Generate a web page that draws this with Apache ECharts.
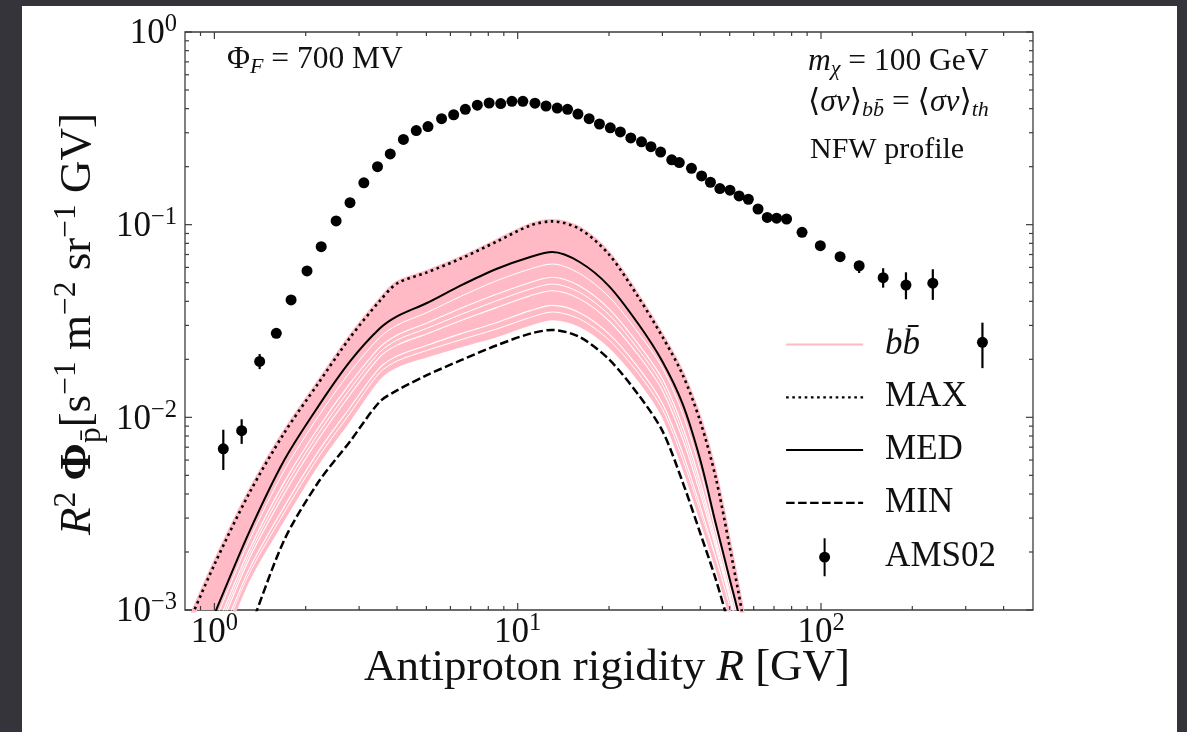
<!DOCTYPE html>
<html><head><meta charset="utf-8">
<script src="https://cdn.jsdelivr.net/npm/echarts@6/dist/echarts.min.js"></script>
<style>
html,body{margin:0;padding:0;width:1187px;height:732px;overflow:hidden;background:#34343a;}
#panel{position:absolute;left:22px;top:6px;width:1155px;height:726px;background:#fff;}
#chart{position:absolute;left:0;top:0;width:1187px;height:732px;}
</style></head><body>
<div id="panel"></div><div id="chart"></div>
<script>
const FONT = '"Liberation Serif","DejaVu Serif",serif';
const INK = '#111';

// ---- model curves (GV, R^2 flux) ----
const rigidity   = [0.8, 1, 1.3, 1.7, 2.2, 2.8, 3.5, 4, 5, 6.5, 8.5, 11, 13, 16, 20, 25, 30, 35, 40, 45, 50, 55, 60];
const fluxMax    = [0.00077, 0.00172, 0.00401, 0.0083, 0.0150, 0.0259, 0.0400, 0.0495, 0.0564, 0.0667, 0.0815, 0.0990, 0.1040, 0.0950, 0.0700, 0.0420, 0.0262, 0.0166, 0.0095, 0.00484, 0.00212, 0.00096, 0.0004];
const fluxMed    = [0.00041, 0.00095, 0.00252, 0.0060, 0.0114, 0.0195, 0.0288, 0.0334, 0.0391, 0.0484, 0.0589, 0.0680, 0.0721, 0.0640, 0.0480, 0.0305, 0.0195, 0.0117, 0.0060, 0.0028, 0.00145, 0.00078, 0.0003];
const fluxMin    = [0.00015, 0.0003, 0.00078, 0.00231, 0.0046, 0.0075, 0.0120, 0.0138, 0.0165, 0.0198, 0.0236, 0.0272, 0.0284, 0.0261, 0.0200, 0.0131, 0.0085, 0.0046, 0.0025, 0.00144, 0.0008, 0.0004, 0.0002];
const fluxPinkLow= [0.0003, 0.00055, 0.00145, 0.0030, 0.0058, 0.0098, 0.0160, 0.0185, 0.0208, 0.0235, 0.0265, 0.0305, 0.0325, 0.0300, 0.0235, 0.0158, 0.0103, 0.0056, 0.0030, 0.0017, 0.00095, 0.0005, 0.00025];
// visible white gaps between individual pink curves
const pinkGap0 = [0.00031, 0.00058, 0.00153, 0.00321, 0.0062, 0.0105, 0.0170, 0.0196, 0.0222, 0.0253, 0.0287, 0.0330, 0.0352, 0.0324, 0.0252, 0.0169, 0.0110, 0.00604, 0.00321, 0.00178, 0.00099, 0.00052, 0.000255];
const pinkGap1 = [0.00032, 0.000614, 0.00162, 0.00344, 0.00664, 0.01125, 0.0180, 0.0208, 0.0236, 0.0272, 0.0310, 0.0358, 0.0381, 0.0349, 0.0271, 0.0181, 0.0118, 0.00652, 0.00344, 0.00187, 0.00104, 0.000547, 0.00026];
const pinkGap2 = [0.00034, 0.00069, 0.00183, 0.00401, 0.00769, 0.0131, 0.0205, 0.0237, 0.0271, 0.0318, 0.0371, 0.0428, 0.0454, 0.0412, 0.0317, 0.0210, 0.0138, 0.00769, 0.00401, 0.00209, 0.00114, 0.000603, 0.00027];
const pinkGap3 = [0.00035, 0.00073, 0.00193, 0.0043, 0.00823, 0.0140, 0.0217, 0.0252, 0.0289, 0.0342, 0.0402, 0.0463, 0.0492, 0.0445, 0.0341, 0.0225, 0.0148, 0.00829, 0.0043, 0.0022, 0.00118, 0.00063, 0.000275];
const pinkGap4 = [0.00036, 0.000773, 0.00204, 0.00461, 0.00881, 0.0150, 0.0230, 0.0267, 0.0308, 0.0368, 0.0435, 0.0501, 0.0533, 0.0480, 0.0366, 0.0240, 0.0158, 0.00893, 0.00461, 0.00232, 0.00123, 0.000659, 0.00028];
const pinkGap5 = [0.00038, 0.000861, 0.00228, 0.0053, 0.0101, 0.0172, 0.0259, 0.0301, 0.0349, 0.0425, 0.0511, 0.0589, 0.0625, 0.0558, 0.0422, 0.0274, 0.0181, 0.0104, 0.0053, 0.00256, 0.00134, 0.00072, 0.00029];

// ---- AMS-02 data ----
const amsR    = [1.07, 1.23, 1.41, 1.60, 1.79, 2.02, 2.25, 2.52, 2.80, 3.11, 3.45, 3.80, 4.20, 4.63, 5.06, 5.61, 6.15, 6.72, 7.36, 8.05, 8.79, 9.57, 10.4, 11.4, 12.4, 13.5, 14.6, 15.8, 17.2, 18.6, 20.2, 21.8, 23.6, 25.6, 27.5, 29.6, 32.2, 34.1, 37.4, 40.4, 43.2, 46.4, 50.1, 53.7, 57.6, 62.0, 66.5, 71.4, 77.0, 86.6, 99.5, 115.6, 133.6, 160.3, 190.6, 233.7, 340.6];
const amsFlux = [0.00686, 0.00853, 0.0195, 0.0273, 0.0407, 0.0575, 0.0769, 0.1045, 0.130, 0.165, 0.200, 0.233, 0.277, 0.308, 0.323, 0.355, 0.372, 0.397, 0.417, 0.428, 0.425, 0.437, 0.437, 0.427, 0.413, 0.403, 0.397, 0.375, 0.355, 0.333, 0.318, 0.303, 0.282, 0.269, 0.254, 0.238, 0.217, 0.210, 0.196, 0.179, 0.166, 0.154, 0.151, 0.141, 0.1355, 0.1206, 0.109, 0.108, 0.107, 0.0913, 0.0778, 0.0682, 0.0612, 0.0531, 0.0486, 0.0497, 0.0245];
const amsErrIdx  = [0, 1, 2, 52, 53, 54, 55, 56];
const amsErrLow  = [0.00533, 0.00728, 0.0178, 0.0561, 0.0471, 0.0410, 0.0407, 0.0180];
const amsErrHigh = [0.00862, 0.00977, 0.0213, 0.0644, 0.0594, 0.0566, 0.0587, 0.0310];

// ---- ticks ----
const xMajorTicks = [1, 10, 100];
const xTickExp    = ['0', '1', '2'];
const xMinorTicks = [0.9, 2, 3, 4, 5, 6, 7, 8, 9, 20, 30, 40, 50, 60, 70, 80, 90, 200, 300, 400];
const yMajorTicks = [0.001, 0.01, 0.1, 1];
const yTickExp    = ['−3', '−2', '−1', '0'];
const yMinorTicks = [0.002, 0.003, 0.004, 0.005, 0.006, 0.007, 0.008, 0.009, 0.02, 0.03, 0.04, 0.05, 0.06, 0.07, 0.08, 0.09, 0.2, 0.3, 0.4, 0.5, 0.6, 0.7, 0.8, 0.9];

const pairs = arr => rigidity.map((r, i) => [r, arr[i]]);
const PINK = '#ffbac6';

const tickRich = {
  b: {fontFamily: FONT, fontSize: 35, fill: INK},
  s: {fontFamily: FONT, fontSize: 24.5, fill: INK, padding: [0, 0, 18, 0]}
};
const annRich = {
  n: {fontFamily: FONT, fontSize: 31.5, fill: INK},
  it: {fontFamily: FONT, fontSize: 31.5, fontStyle: 'italic', fill: INK},
  si: {fontFamily: FONT, fontSize: 22, fontStyle: 'italic', fill: INK, padding: [14, 0, 0, 0]}
};

const chart = echarts.init(document.getElementById('chart'), null, {renderer: 'canvas'});

function lineSeries(name, arr, color, width, type, z) {
  return {
    name: name, type: 'line', data: pairs(arr), symbol: 'none', smooth: 0.3,
    lineStyle: {color: color, width: width, type: type || 'solid', cap: 'butt', opacity: 1},
    itemStyle: {color: color}, z: z, silent: true, clip: true
  };
}
const hideSym = {opacity: 0};

const option = {
  animation: false,
  grid: {left: 185, top: 32, width: 848, height: 578, show: true, borderColor: '#3c3c3c', borderWidth: 1.3, backgroundColor: 'transparent'},
  xAxis: {type: 'log', logBase: 10, min: 0.8, max: 500,
    axisLine: {show: false}, axisTick: {show: false}, axisLabel: {show: false}, splitLine: {show: false}},
  yAxis: {type: 'log', logBase: 10, min: 0.001, max: 1,
    axisLine: {show: false}, axisTick: {show: false}, axisLabel: {show: false}, splitLine: {show: false}},
  legend: {
    orient: 'vertical', left: 780, top: 322, itemWidth: 77, itemHeight: 38, itemGap: 17.8,
    selectedMode: false,
    textStyle: {fontFamily: FONT, fontSize: 35, color: INK, padding: [0, 0, 0, 17],
      rich: {it: {fontFamily: FONT, fontSize: 35, fontStyle: 'italic', color: INK}}},
    formatter: n => n === 'bb̄' ? '{it|bb̄}' : n,
    data: [
      {name: 'bb̄', lineStyle: {width: 2}, itemStyle: hideSym},
      {name: 'MAX', lineStyle: {width: 2.2}, itemStyle: hideSym},
      {name: 'MED', lineStyle: {width: 2}, itemStyle: hideSym},
      {name: 'MIN', lineStyle: {width: 2.2}, itemStyle: hideSym},
      {name: 'AMS02', icon: 'path://M4.5,0h2v38h-2z M0,19 a5.5,5.5 0 1,1 11,0 a5.5,5.5 0 1,1 -11,0z', itemStyle: {color: '#000', opacity: 1}}
    ]
  },
  graphic: {elements: [
    {type: 'text', x: 227, y: 60, z: 100, style: {
      text: '{n|Φ}{si|F}{n| = 700 MV}', align: 'left', verticalAlign: 'middle', rich: annRich}},
    {type: 'text', x: 808, y: 62, z: 100, style: {
      text: '{it|m}{si|χ}{n| = 100 GeV}', align: 'left', verticalAlign: 'middle', rich: annRich}},
    {type: 'text', x: 808, y: 103, z: 100, style: {
      text: '{n|⟨}{it|σv}{n|⟩}{si|bb̄}{n| = ⟨}{it|σv}{n|⟩}{si|th}', align: 'left', verticalAlign: 'middle', rich: annRich}},
    {type: 'text', x: 810, y: 150, z: 100, style: {
      text: 'NFW profile', align: 'left', verticalAlign: 'middle', fontFamily: FONT, fontSize: 30, fill: INK}},
    {type: 'text', x: 607, y: 668, z: 100, style: {
      text: '{n|Antiproton rigidity }{it|R}{n| [GV]}', align: 'center', verticalAlign: 'middle',
      rich: {n: {fontFamily: FONT, fontSize: 45, fill: INK},
             it: {fontFamily: FONT, fontSize: 45, fontStyle: 'italic', fill: INK}}}},
    {type: 'text', x: 78, y: 324, rotation: Math.PI / 2, z: 100, style: {
      text: '{it|R}{sup|2}{n| }{bf|Φ}{sub|p̄}{n|[s}{sup|−1}{n| m}{sup|−2}{n| sr}{sup|−1}{n| GV]}',
      align: 'center', verticalAlign: 'middle',
      rich: {n: {fontFamily: FONT, fontSize: 45, fill: INK},
             it: {fontFamily: FONT, fontSize: 45, fontStyle: 'italic', fill: INK},
             bf: {fontFamily: FONT, fontSize: 45, fontWeight: 'bold', fill: INK},
             sup: {fontFamily: FONT, fontSize: 31.5, fill: INK, padding: [0, 0, 23, 0]},
             sub: {fontFamily: FONT, fontSize: 31.5, fill: INK, padding: [27, 0, 0, 0]}}}}
  ]},
  series: [
    { // pink band of individual bb̄ spectra
      type: 'custom', silent: true, clip: true, z: 1,
      data: [[1, 0.01]],
      renderItem: (params, api) => {
        const pts = rigidity.map((r, i) => api.coord([r, fluxMax[i]]))
          .concat(rigidity.map((r, i) => api.coord([r, fluxPinkLow[i]])).reverse());
        return {type: 'polygon', shape: {points: pts, smooth: 0.2}, style: {fill: PINK}};
      }
    },
    lineSeries('gap0', pinkGap0, '#ffffff', 1.0, 'solid', 2),
    lineSeries('gap1', pinkGap1, '#ffffff', 1.1, 'solid', 2),
    lineSeries('gap2', pinkGap2, '#ffffff', 1.1, 'solid', 2),
    lineSeries('gap3', pinkGap3, '#ffffff', 1.0, 'solid', 2),
    lineSeries('gap4', pinkGap4, '#ffffff', 1.1, 'solid', 2),
    lineSeries('gap5', pinkGap5, '#ffffff', 1.0, 'solid', 2),
    lineSeries('bb̄', fluxMax, PINK, 5, 'solid', 3),
    lineSeries('pinkLow', fluxPinkLow, PINK, 3, 'solid', 3),
    lineSeries('MAX', fluxMax, '#000', 2.6, [2.6, 3.6], 4),
    lineSeries('MED', fluxMed, '#000', 2.0, 'solid', 4),
    lineSeries('MIN', fluxMin, '#000', 2.5, [8.5, 3.5], 4),
    { // AMS-02 error bars
      type: 'custom', silent: true, z: 5,
      data: amsErrIdx.map((k, j) => [amsR[k], amsErrLow[j], amsErrHigh[j]]),
      encode: {x: 0, y: [1, 2]},
      renderItem: (params, api) => {
        const a = api.coord([api.value(0), api.value(1)]);
        const b = api.coord([api.value(0), api.value(2)]);
        return {type: 'line', shape: {x1: a[0], y1: a[1], x2: b[0], y2: b[1]}, style: {stroke: '#000', lineWidth: 2.2}};
      }
    },
    {
      name: 'AMS02', type: 'scatter', symbol: 'circle', symbolSize: 11, z: 6, silent: true,
      itemStyle: {color: '#000', opacity: 1},
      data: amsR.map((r, i) => [r, amsFlux[i]])
    },
    { // ticks and tick labels on all four sides
      type: 'custom', silent: true, z: 10,
      data: [[1, 0.01]],
      renderItem: (params, api) => {
        const cs = params.coordSys;
        const top = cs.y, bot = cs.y + cs.height, left = cs.x, right = cs.x + cs.width;
        const ch = [];
        const seg = (x1, y1, x2, y2) => ch.push({type: 'line', shape: {x1, y1, x2, y2}, style: {stroke: '#3c3c3c', lineWidth: 1.2}});
        xMajorTicks.forEach((v, i) => {
          const px = api.coord([v, 0.01])[0];
          seg(px, bot, px, bot - 7); seg(px, top, px, top + 7);
          ch.push({type: 'text', x: px, y: bot + 23, style: {text: '{b|10}{s|' + xTickExp[i] + '}', rich: tickRich, align: 'center', verticalAlign: 'middle'}});
        });
        xMinorTicks.forEach(v => {
          const px = api.coord([v, 0.01])[0];
          seg(px, bot, px, bot - 4); seg(px, top, px, top + 4);
        });
        yMajorTicks.forEach((v, i) => {
          const py = api.coord([1, v])[1];
          seg(left, py, left + 7, py); seg(right, py, right - 7, py);
          ch.push({type: 'text', x: left - 8, y: py + 2, style: {text: '{b|10}{s|' + yTickExp[i] + '}', rich: tickRich, align: 'right', verticalAlign: 'middle'}});
        });
        yMinorTicks.forEach(v => {
          const py = api.coord([1, v])[1];
          seg(left, py, left + 4, py); seg(right, py, right - 4, py);
        });
        return {type: 'group', children: ch};
      }
    }
  ]
};
chart.setOption(option);
</script>
</body></html>
